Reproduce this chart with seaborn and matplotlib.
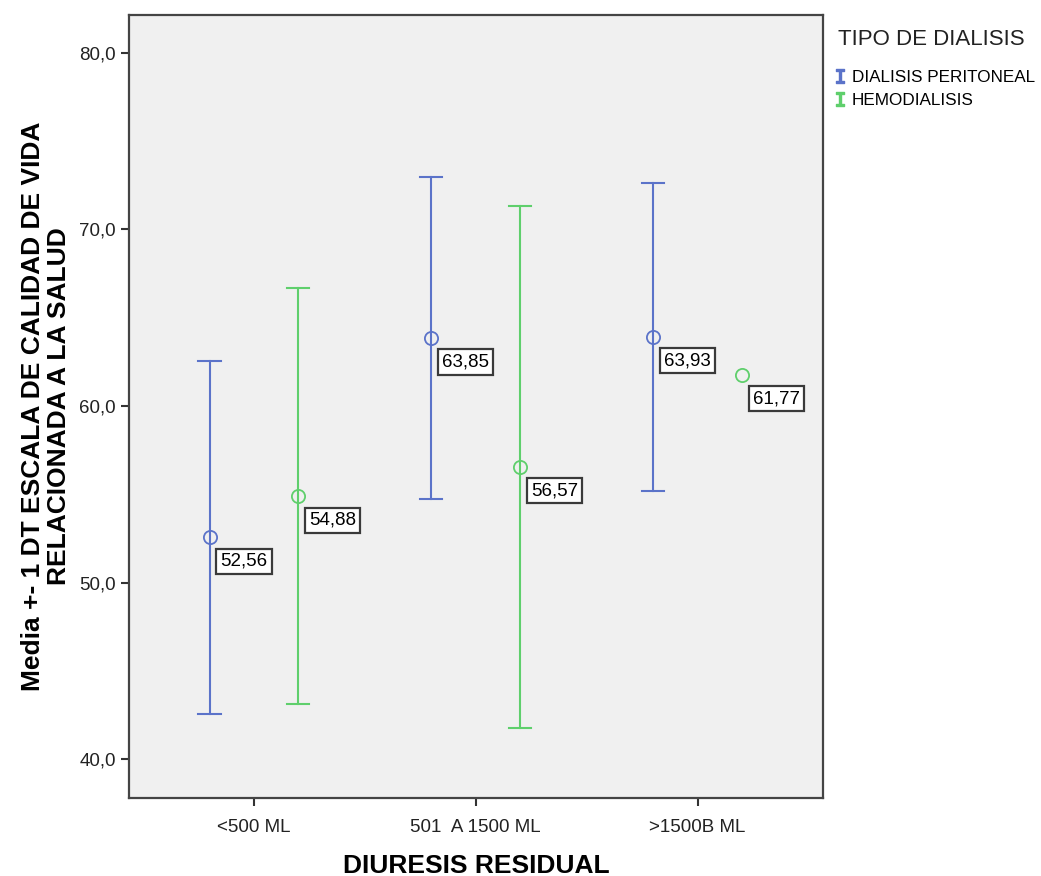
import seaborn as sns
import matplotlib.pyplot as plt
import pandas as pd
from matplotlib.lines import Line2D

categorias = ['<500 ML', '501  A 1500 ML', '>1500B ML']
tipos = ['DIALISIS PERITONEAL', 'HEMODIALISIS']
colores = ['#5b73c9', '#5fcf6c']

# media y DT
media_dp = [52.56, 63.85, 63.93]
dt_dp = [10.01, 9.10, 8.72]
media_hd = [54.88, 56.57, 61.77]
dt_hd = [11.78, 14.78, None]   # >1500 HD sin barra

filas = []
for tipo, medias, dts in [(tipos[0], media_dp, dt_dp), (tipos[1], media_hd, dt_hd)]:
    for cat, m, d in zip(categorias, medias, dts):
        if d is None:
            filas.append((cat, tipo, m))
        else:
            for v in (m - d, m, m + d):
                filas.append((cat, tipo, v))
df = pd.DataFrame(filas, columns=['diuresis', 'tipo', 'valor'])

plt.rcParams['font.family'] = ['Liberation Sans', 'DejaVu Sans']

fig = plt.figure(figsize=(10.41, 8.76), dpi=100)
ax = fig.add_axes([0.1239, 0.089, 0.667, 0.894])
ax.set_facecolor('#f0f0f0')

sns.pointplot(data=df, x='diuresis', y='valor', hue='tipo', order=categorias,
              hue_order=tipos, palette=colores, estimator='median',
              errorbar=('pi', 100), dodge=0.4, capsize=0.1, linestyle='none',
              markers='o', markersize=9.5, markerfacecolor='none', markeredgewidth=1.3,
              err_kws={'linewidth': 1.5}, legend=False, ax=ax)

# etiquetas con el valor de la media
for i, (medias, off) in enumerate([(media_dp, -0.2), (media_hd, 0.2)]):
    for j, m in enumerate(medias):
        ax.annotate(f'{m:.2f}'.replace('.', ','), xy=(j + off, m),
                    xytext=(11, -24), textcoords='offset pixels',
                    ha='left', va='center', fontsize=13.5,
                    bbox=dict(boxstyle='square,pad=0.22', fc='white', ec='#3a3a3a', lw=1.6))

ax.set_xlim(-0.563, 2.567)
ax.set_ylim(37.8, 82.15)
ax.set_yticks([40, 50, 60, 70, 80])
ax.set_yticklabels(['40,0', '50,0', '60,0', '70,0', '80,0'])
ax.tick_params(axis='both', labelsize=13.5, length=6, width=1.5, color='#333333',
               direction='out', labelcolor='#222222')
ax.tick_params(axis='x', pad=9)
for s in ax.spines.values():
    s.set_color('#444444')
    s.set_linewidth(1.6)

ax.set_xlabel('DIURESIS RESIDUAL', fontsize=19, fontweight='bold', labelpad=13)
ax.set_ylabel('Media +- 1 DT ESCALA DE CALIDAD DE VIDA\nRELACIONADA A LA SALUD',
              fontsize=19, fontweight='bold', labelpad=6, linespacing=1.1)

fig.text(0.805, 0.955, 'TIPO DE DIALISIS', fontsize=16, color='#222222',
         ha='left', va='center')
handles = [Line2D([], [], color=c, marker=r'$\mathtt{I}$', linestyle='none', markersize=10)
           for c in colores]
fig.legend(handles, tipos, loc='upper left', bbox_to_anchor=(0.795, 0.928),
           frameon=False, fontsize=12.3, handletextpad=0.3, handlelength=0.7,
           labelspacing=0.45, borderaxespad=0.0)

fig.savefig('out.png', dpi=100)
